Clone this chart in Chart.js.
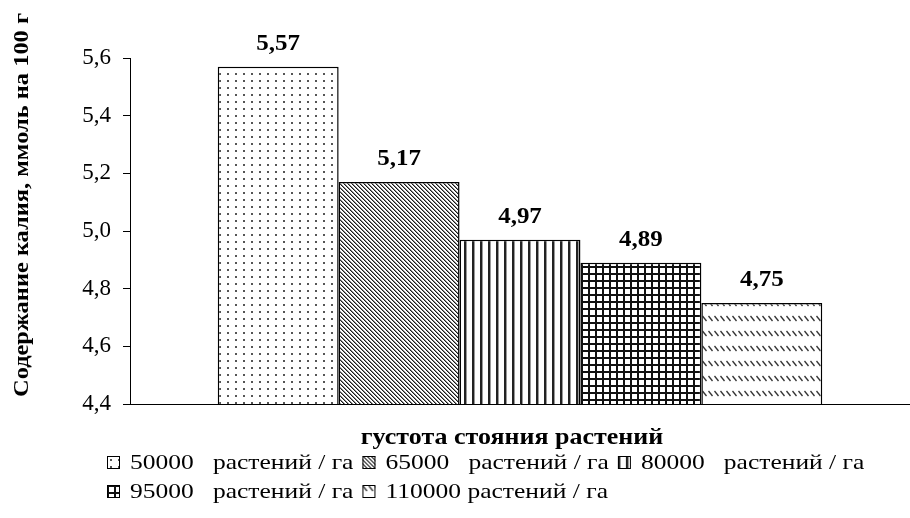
<!DOCTYPE html>
<html>
<head>
<meta charset="utf-8">
<script src="https://cdn.jsdelivr.net/npm/chart.js@4"></script>
<style>
  html, body { margin: 0; padding: 0; background: #fff; }
  #c { display: block; }
</style>
</head>
<body>
<canvas id="c" width="910" height="518"></canvas>
<script>
// Plant density groups and potassium content (mmol per 100 g)
const categories = [''];
const densityLabels = [
  '50000   растений / га',
  '65000   растений / га',
  '80000   растений / га',
  '95000   растений / га',
  '110000 растений / га'
];
const potassium = [5.57, 5.17, 4.97, 4.89, 4.75];
const yMin = 4.4, yMax = 5.6, yStep = 0.2;
const yTitle = 'Содержание калия, ммоль на 100 г';
const xTitle = 'густота стояния растений';

const SERIF = '"Liberation Serif", "Times New Roman", serif';
const canvas = document.getElementById('c');
const ctx = canvas.getContext('2d');

// Monochrome fill patterns, one per density group
function tile(w, h, paint) {
  const t = document.createElement('canvas');
  t.width = w; t.height = h;
  const g = t.getContext('2d');
  g.fillStyle = '#fff';
  g.fillRect(0, 0, w, h);
  paint(g);
  return ctx.createPattern(t, 'repeat');
}
const patterns = [
  // sparse dots
  tile(8, 7, g => { g.fillStyle = '#555'; g.fillRect(3, 3, 2, 2); }),
  // dense "\" stripes
  tile(4, 4, g => {
    for (let i = 0; i < 4; i++) {
      g.fillStyle = '#1a1a1a'; g.fillRect(i, i, 1, 1);
      g.fillStyle = '#8a8a8a'; g.fillRect((i + 1) % 4, i, 1, 1);
    }
  }),
  // vertical lines
  tile(8, 1, g => {
    g.fillStyle = '#222'; g.fillRect(0, 0, 2, 1);
    g.fillStyle = '#999'; g.fillRect(2, 0, 1, 1);
  }),
  // square grid
  tile(7, 7, g => {
    g.fillStyle = '#111';
    g.fillRect(0, 0, 7, 2);
    g.fillRect(0, 0, 2, 7);
  }),
  // rows of short "\" dashes
  tile(6, 15, g => {
    g.strokeStyle = '#333'; g.lineWidth = 1.3;
    g.beginPath(); g.moveTo(0.5, 1); g.lineTo(4.5, 6); g.stroke();
  })
];

const datasets = densityLabels.map((label, i) => ({
  label,
  data: [potassium[i]],
  backgroundColor: patterns[i],
  borderColor: '#000',
  borderWidth: 1.5,
  categoryPercentage: 0.775,
  barPercentage: 1
}));

const fmt = (v, d) => v.toFixed(d).replace('.', ',');

// Draws horizontally-stretched text (Times-like face drawn slightly wider)
function stretchedText(c, text, x, y, sx, align) {
  c.save();
  c.translate(x, y);
  c.scale(sx, 1);
  c.textAlign = align || 'left';
  c.fillText(text, 0, 0);
  c.restore();
}

const valueLabels = {
  id: 'valueLabels',
  afterDatasetsDraw(chart) {
    const c = chart.ctx;
    c.save();
    c.font = 'bold 24px ' + SERIF;
    c.fillStyle = '#000';
    c.textAlign = 'center';
    c.textBaseline = 'alphabetic';
    chart.data.datasets.forEach((ds, i) => {
      const el = chart.getDatasetMeta(i).data[0];
      stretchedText(c, fmt(ds.data[0], 2), el.x, el.y - 17, 1.04, 'center');
    });
    c.restore();
  }
};

const axisTitles = {
  id: 'axisTitles',
  afterDraw(chart) {
    const c = chart.ctx;
    c.save();
    c.fillStyle = '#000';
    c.font = 'bold 22px ' + SERIF;
    c.textBaseline = 'middle';
    // vertical title
    c.save();
    c.translate(22, 205);
    c.rotate(-Math.PI / 2);
    c.scale(1.11, 1);
    c.textAlign = 'center';
    c.fillText(yTitle, 0, 0);
    c.restore();
    // horizontal title
    c.font = 'bold 23px ' + SERIF;
    const area = chart.chartArea;
    c.textBaseline = 'alphabetic';
    stretchedText(c, xTitle, (area.left + area.right) / 2 - 8, 444, 1.13, 'center');
    c.restore();
  }
};

const patternLegend = {
  id: 'patternLegend',
  afterDraw(chart) {
    const c = chart.ctx;
    const sx = 1.16;
    const left = 107, maxRight = 905;
    const rowY = [462, 491];
    const box = 13, gapText = 10, gapItem = 9;
    c.save();
    c.font = '22px ' + SERIF;
    c.textBaseline = 'middle';
    c.fillStyle = '#000';
    let x = left, row = 0;
    chart.data.datasets.forEach((ds, i) => {
      const w = c.measureText(ds.label).width * sx;
      const itemW = box + gapText + w;
      if (x + itemW > maxRight && x > left) { row++; x = left; }
      const y = rowY[row] || rowY[rowY.length - 1] + 29 * (row - 1);
      const top = Math.round(y - box / 2);
      // pattern swatch anchored at its own corner
      c.save();
      c.translate(x, top);
      c.fillStyle = ds.backgroundColor;
      c.fillRect(0, 0, box, box);
      c.strokeStyle = '#000';
      c.lineWidth = 1;
      c.strokeRect(0.5, 0.5, box - 1, box - 1);
      c.restore();
      c.fillStyle = '#000';
      stretchedText(c, ds.label, x + box + gapText, y + 1, sx, 'left');
      x += itemW + gapItem;
    });
    c.restore();
  }
};

new Chart(canvas, {
  type: 'bar',
  data: { labels: categories, datasets },
  options: {
    responsive: false,
    animation: false,
    layout: { padding: { top: 58, bottom: 114, left: 0, right: 0 } },
    plugins: {
      legend: { display: false },
      tooltip: { enabled: false },
      title: { display: false }
    },
    scales: {
      x: {
        ticks: { display: false },
        grid: { display: true, drawOnChartArea: false, drawTicks: false },
        border: { display: true, color: '#000', width: 1 },
        afterFit(scale) { scale.height = 0; }
      },
      y: {
        min: yMin,
        max: yMax,
        ticks: {
          stepSize: yStep,
          padding: 12,
          color: '#000',
          font: { family: SERIF, size: 23 },
          callback: v => fmt(v, 1)
        },
        grid: { drawOnChartArea: false, drawTicks: true, tickLength: 7, color: '#000', lineWidth: 1 },
        border: { display: true, color: '#000', width: 1 },
        afterFit(scale) { scale.width = 130; }
      }
    }
  },
  plugins: [valueLabels, axisTitles, patternLegend]
});
</script>
</body>
</html>
